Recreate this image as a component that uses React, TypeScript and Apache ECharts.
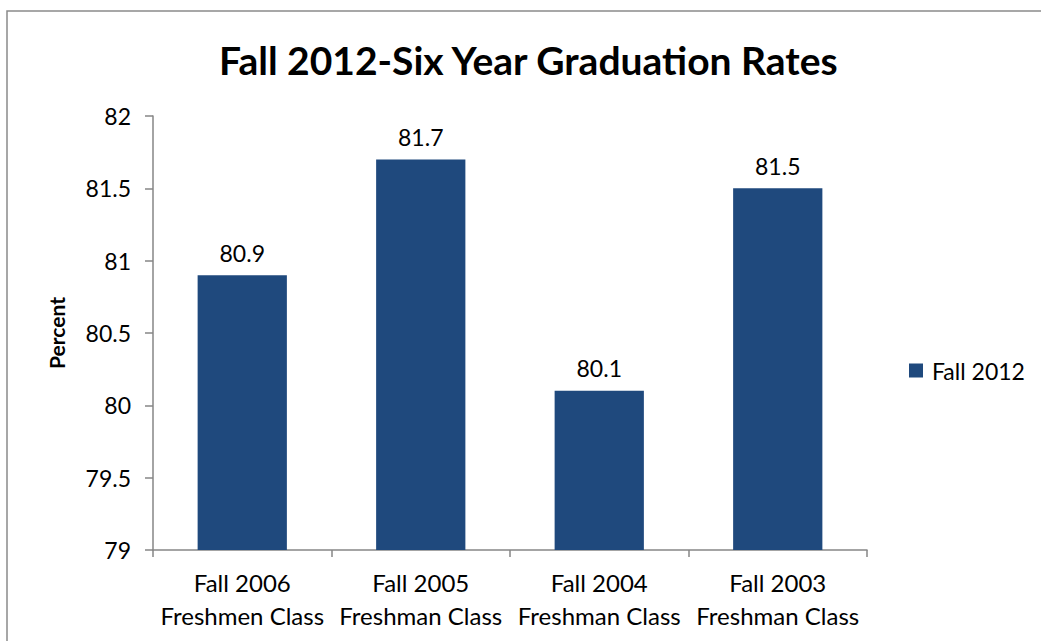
import React, { useEffect, useRef } from "react";
import * as echarts from "echarts";

const categories = [
  "Fall 2006\nFreshmen Class",
  "Fall 2005\nFreshman Class",
  "Fall 2004\nFreshman Class",
  "Fall 2003\nFreshman Class",
];
const seriesName = "Fall 2012";
const values = [80.9, 81.7, 80.1, 81.5];
const yMin = 79;
const yMax = 82;
const yInterval = 0.5;

const FONT = "Lato, 'Open Sans', sans-serif";

export default function App() {
  const ref = useRef<HTMLDivElement>(null);
  useEffect(() => {
    if (!ref.current) return;
    const chart = echarts.init(ref.current, null, { renderer: "svg" });
    chart.setOption({
      animation: false,
      backgroundColor: "#ffffff",
      title: {
        text: "Fall 2012-Six Year Graduation Rates",
        left: 219,
        top: 40,
        padding: 0,
        textStyle: { fontFamily: FONT, fontWeight: "bold", fontSize: 39, color: "#000" },
      },
      graphic: [
        {
          type: "rect",
          shape: { x: 7, y: 11, width: 1100, height: 700 },
          style: { fill: "none", stroke: "#8a8a8a", lineWidth: 1.5 },
          silent: true,
        },
      ],
      legend: {
        left: 904,
        top: 354,
        itemWidth: 14,
        itemHeight: 14,
        icon: "rect",
        itemGap: 8,
        textStyle: { fontFamily: FONT, fontSize: 23, color: "#000", padding: [0, 0, 0, 4] },
        data: [seriesName],
      },
      grid: { left: 153, top: 116, right: 174, bottom: 91, containLabel: false },
      xAxis: {
        type: "category",
        data: categories,
        axisLine: { lineStyle: { color: "#868686", width: 1.5 } },
        axisTick: { show: true, alignWithLabel: false, length: 7, lineStyle: { color: "#868686", width: 1.5 } },
        axisLabel: {
          fontFamily: FONT,
          fontSize: 24,
          color: "#000",
          lineHeight: 33,
          margin: 16,
          interval: 0,
        },
      },
      yAxis: {
        type: "value",
        min: yMin,
        max: yMax,
        interval: yInterval,
        name: "Percent",
        nameLocation: "middle",
        nameGap: 86,
        nameRotate: 90,
        nameTextStyle: { fontFamily: FONT, fontWeight: "bold", fontSize: 21, color: "#000" },
        axisLine: { show: true, lineStyle: { color: "#868686", width: 1.5 } },
        axisTick: { show: true, length: 8, lineStyle: { color: "#868686", width: 1.5 } },
        splitLine: { show: false },
        axisLabel: { fontFamily: FONT, fontSize: 23, color: "#000", margin: 22 },
      },
      series: [
        {
          name: seriesName,
          type: "bar",
          data: values,
          barWidth: "50%",
          itemStyle: { color: "#1F497D" },
          label: {
            show: true,
            position: "top",
            distance: 11,
            fontFamily: FONT,
            fontSize: 23,
            color: "#000",
          },
        },
      ],
    });
    return () => chart.dispose();
  }, []);
  return (
    <div
      ref={ref}
      style={{ position: "fixed", left: 0, top: 0, width: 1041, height: 641 }}
    />
  );
}
